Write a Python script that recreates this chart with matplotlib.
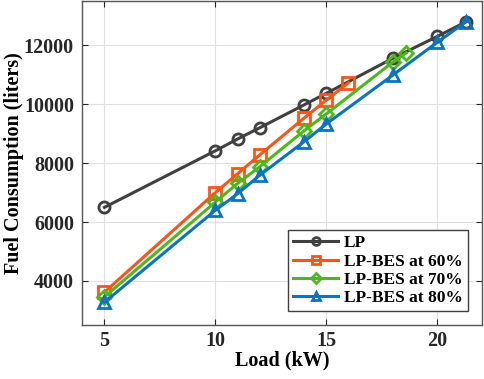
import matplotlib
matplotlib.use("Agg")
import matplotlib.pyplot as plt

plt.rcParams['font.family'] = ['Liberation Serif', 'DejaVu Serif']
plt.rcParams['font.weight'] = 'bold'
plt.rcParams['font.size'] = 14.5

load_lp = [5, 10, 11, 12, 14, 15, 18, 20, 21.3]
fuel_lp = [6500, 8420, 8820, 9200, 9980, 10370, 11560, 12300, 12800]

load_60 = [5, 10, 11, 12, 14, 15, 16]
fuel_60 = [3620, 7000, 7640, 8280, 9530, 10140, 10730]

load_70 = [5, 10, 11, 12, 14, 15, 18, 18.6]
fuel_70 = [3460, 6680, 7310, 7880, 9100, 9670, 11430, 11740]

load_80 = [5, 10, 11, 12, 14, 15, 18, 20, 21.3]
fuel_80 = [3280, 6400, 6960, 7590, 8730, 9330, 10990, 12100, 12800]

fig = plt.figure(figsize=(4.84, 3.79), dpi=100)
ax = fig.add_axes([0.17, 0.142, 0.825, 0.855])

kw = dict(linewidth=2.2, markersize=8, markeredgewidth=2, markerfacecolor='none')
ax.plot(load_lp, fuel_lp, marker='o', color='#404040', label='LP', **kw)
ax.plot(load_60, fuel_60, marker='s', color='#FF5315', label='LP-BES at 60%', **kw)
ax.plot(load_70, fuel_70, marker='D', color='#4DB81A', label='LP-BES at 70%',
        linewidth=2.2, markersize=7, markeredgewidth=2, markerfacecolor='none')
ax.plot(load_80, fuel_80, marker='^', color='#0A74C4', label='LP-BES at 80%', **kw)

ax.set_xlim(4, 22)
ax.set_ylim(2500, 13500)
ax.set_xticks([5, 10, 15, 20])
ax.set_yticks([4000, 6000, 8000, 10000, 12000])
ax.grid(True, color='#e0e0e0', linewidth=0.8)
ax.set_axisbelow(True)
ax.tick_params(direction='in', top=True, right=True, colors='#262626', length=4)
ax.tick_params(axis='x', pad=4)
ax.tick_params(axis='y', pad=6)
for s in ax.spines.values():
    s.set_color('#555555')
    s.set_linewidth(1)

ax.set_xlabel('Load (kW)', fontweight='bold', labelpad=0)
ax.set_ylabel('Fuel Consumption (liters)', fontweight='bold', labelpad=0)

leg = ax.legend(loc='lower right', fancybox=False, edgecolor='#404040',
                framealpha=1, handlelength=2.6, borderpad=0.3, labelspacing=0.12,
                handletextpad=0.3, borderaxespad=0.8, fontsize=12.5, markerscale=0.7)
leg.get_frame().set_linewidth(1)

fig.savefig('out.png', dpi=100)
